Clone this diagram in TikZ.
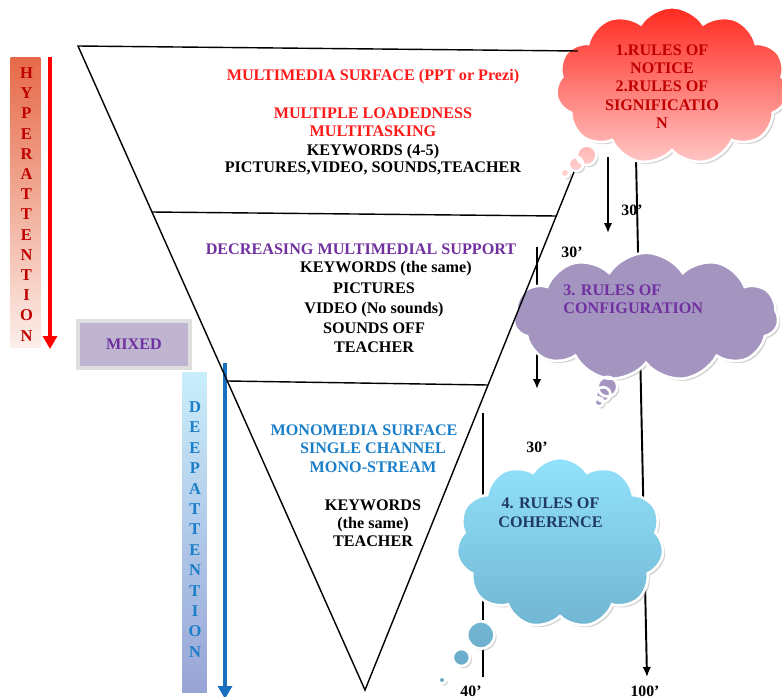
\documentclass[tikz,border=0pt]{standalone}
\usepackage{fontspec}
\setmainfont{Liberation Serif}
\usetikzlibrary{shapes.symbols, shapes.callouts, shadows, arrows.meta}

\definecolor{surfred}{HTML}{FF1A1A}
\definecolor{deepred}{HTML}{C00000}
\definecolor{mixpurple}{HTML}{7030A0}
\definecolor{monoblue}{HTML}{1A7FC8}
\definecolor{navytext}{HTML}{1F3864}
\definecolor{hypertop}{HTML}{E66A48}
\definecolor{hyperbot}{HTML}{FCEFEA}
\definecolor{deeptop}{HTML}{C9EEFB}
\definecolor{deepbot}{HTML}{98A4D6}
\definecolor{mixfill}{HTML}{C0B5D0}
\definecolor{noticetop}{HTML}{FF2A1F}
\definecolor{noticebot}{HTML}{FFD6D6}
\definecolor{conffill}{HTML}{A495C0}
\definecolor{cohertop}{HTML}{92E2FC}
\definecolor{coherbot}{HTML}{66A6C4}
\definecolor{blueline}{HTML}{1A6FC0}

\tikzset{
    lbl/.style={font=\bfseries\fontsize{9.2}{10}\selectfont, align=center, inner sep=0pt},
    letter/.style={font=\bfseries\fontsize{9.4}{10}\selectfont, inner sep=0pt},
    ticklbl/.style={font=\bfseries\fontsize{9}{10}\selectfont, inner sep=0pt},
    bubble/.style={cloud callout, cloud puffs=11, cloud puff arc=115, cloud ignores aspect,
        draw=white, line width=1.5pt, inner sep=0pt,
        drop shadow={opacity=0.35, shadow xshift=1.2pt, shadow yshift=-1.2pt},
        callout pointer segments=3},
    timeline/.style={line width=1.1pt},
    timearrow/.style={line width=1.1pt, -{Latex[length=2mm, width=1.7mm]}},
}

\begin{document}
\begin{tikzpicture}[x=0.02cm, y=-0.02cm]
    \useasboundingbox (0,0) rectangle (782,697);

    % attention bars
    \node[minimum width=0.6cm, minimum height=5.82cm, top color=hypertop, bottom color=hyperbot] (hyperbar) at (25.5,202.5) {};
    \foreach \l [count=\i] in {H,Y,P,E,R,A,T,T,E,N,T,I,O,N}
        \node[letter, text=deepred] (hyper\i) at (26.5,{73+(\i-1)*20.2}) {\l};
    \coordinate (hypstart) at (50,57);
    \coordinate (hypend) at (50,349);
    \draw[line width=1.8pt, red, -{Triangle[length=2.6mm, width=2.8mm]}] (hypstart) -- (hypend);

    \node[lbl, fill=mixfill, draw=gray!25, line width=2pt, minimum width=2.24cm, minimum height=0.94cm, text=mixpurple,
        drop shadow={opacity=0.3, shadow xshift=1pt, shadow yshift=-0.6pt}] (mixed) at (134,344.5) {MIXED};

    \node[minimum width=0.5cm, minimum height=6.42cm, top color=deeptop, bottom color=deepbot] (deepbar) at (194.5,532.5) {};
    \foreach \l [count=\i] in {D,E,E,P,A,T,T,E,N,T,I,O,N}
        \node[letter, text=monoblue] (deep\i) at (195,{407+(\i-1)*20.4}) {\l};
    \coordinate (deepstart) at (225,363);
    \coordinate (deepend) at (225,699);
    \draw[line width=1.8pt, blueline, -{Triangle[length=2.6mm, width=2.8mm]}] (deepstart) -- (deepend);

    % time lines
    \coordinate (t1a) at (608,157);
    \coordinate (t1b) at (608,233);
    \coordinate (t2a) at (636,157);
    \coordinate (t2b) at (647,677);
    \coordinate (t3a) at (537,247);
    \coordinate (t3b) at (537,389);
    \coordinate (t4a) at (483,413);
    \coordinate (t4b) at (483,677);
    \draw[timearrow] (t1a) -- (t1b);
    \draw[timearrow] (t2a) -- (t2b);
    \draw[timearrow] (t3a) -- (t3b);
    \draw[timeline] (t4a) -- (t4b);

    \node[ticklbl] (min1) at (632,210) {30’};
    \node[ticklbl] (min2) at (572,252) {30’};
    \node[ticklbl] (min3) at (537,447) {30’};
    \node[ticklbl] (min4) at (471,691) {40’};
    \node[ticklbl] (min5) at (645,691) {100’};

    % clouds
    \node[bubble, top color=noticetop, bottom color=noticebot, minimum width=4.65cm, minimum height=3.15cm,
        callout absolute pointer={(565,173)}, callout pointer start size=5mm and 5mm,
        callout pointer end size=1.8mm and 1.8mm] (notice) at (672,86) {};
    \node[bubble, fill=conffill, minimum width=5.3cm, minimum height=2.57cm,
        callout absolute pointer={(599,402)}, callout pointer start size=5mm and 5mm,
        callout pointer end size=1.8mm and 1.8mm] (config) at (646,317) {};
    \node[bubble, top color=cohertop, bottom color=coherbot, minimum width=4.15cm, minimum height=3.4cm,
        callout absolute pointer={(442,680)}, callout pointer start size=7.5mm and 7.5mm,
        callout pointer end size=1.4mm and 1.4mm] (coher) at (560,543) {};

    \node[lbl, font=\bfseries\fontsize{9.2}{10.4}\selectfont, text=deepred] (noticetxt) at (662,86.5)
        {1.RULES OF\\NOTICE\\2.RULES OF\\SIGNIFICATIO\\N};
    \node[lbl, align=left, anchor=west, text=mixpurple] (configtxt) at (563,299) {3. RULES OF\\CONFIGURATION};
    \node[lbl, font=\bfseries\fontsize{9.2}{10.8}\selectfont, text=navytext] (cohertxt) at (550.5,512.5) {4. RULES OF\\COHERENCE};

    % funnel
    \coordinate (ftl) at (78,46);
    \coordinate (ftr) at (578,51);
    \coordinate (fapex) at (365,690);
    \coordinate (fright) at (574,172);
    \coordinate (d1l) at (152,212);
    \coordinate (d1r) at (557,216);
    \coordinate (d2l) at (228,381);
    \coordinate (d2r) at (488,385);
    \draw[line width=0.8pt] (ftr) -- (ftl) -- (fapex) -- (fright);
    \draw[line width=0.8pt] (d1l) -- (d1r);
    \draw[line width=0.8pt] (d2l) -- (d2r);

    % multimedia surface
    \node[lbl, text=surfred] (surf) at (373,77) {MULTIMEDIA SURFACE (PPT or Prezi)};
    \node[lbl, text=surfred] (loaded) at (373,122.5) {MULTIPLE LOADEDNESS\\MULTITASKING};
    \node[lbl] (keys1) at (373,159.5) {KEYWORDS (4-5)\\PICTURES,VIDEO, SOUNDS,TEACHER};

    % decreasing support
    \node[lbl, text=mixpurple] (support) at (361,249) {DECREASING MULTIMEDIAL SUPPORT};
    \node[lbl] (keys2) at (386,269) {KEYWORDS (the same)};
    \node[lbl, font=\bfseries\fontsize{9.2}{11.2}\selectfont] (media2) at (374,318)
        {PICTURES\\VIDEO (No sounds)\\SOUNDS OFF\\TEACHER};

    % monomedia surface
    \node[lbl, text=monoblue] (mono) at (364,430) {MONOMEDIA SURFACE};
    \node[lbl, font=\bfseries\fontsize{9.2}{10.6}\selectfont, text=monoblue] (channel) at (373,457.5) {SINGLE CHANNEL\\MONO-STREAM};
    \node[lbl, font=\bfseries\fontsize{9.2}{10.3}\selectfont] (keys3) at (373,523) {KEYWORDS\\(the same)\\TEACHER};
\end{tikzpicture}
\end{document}
